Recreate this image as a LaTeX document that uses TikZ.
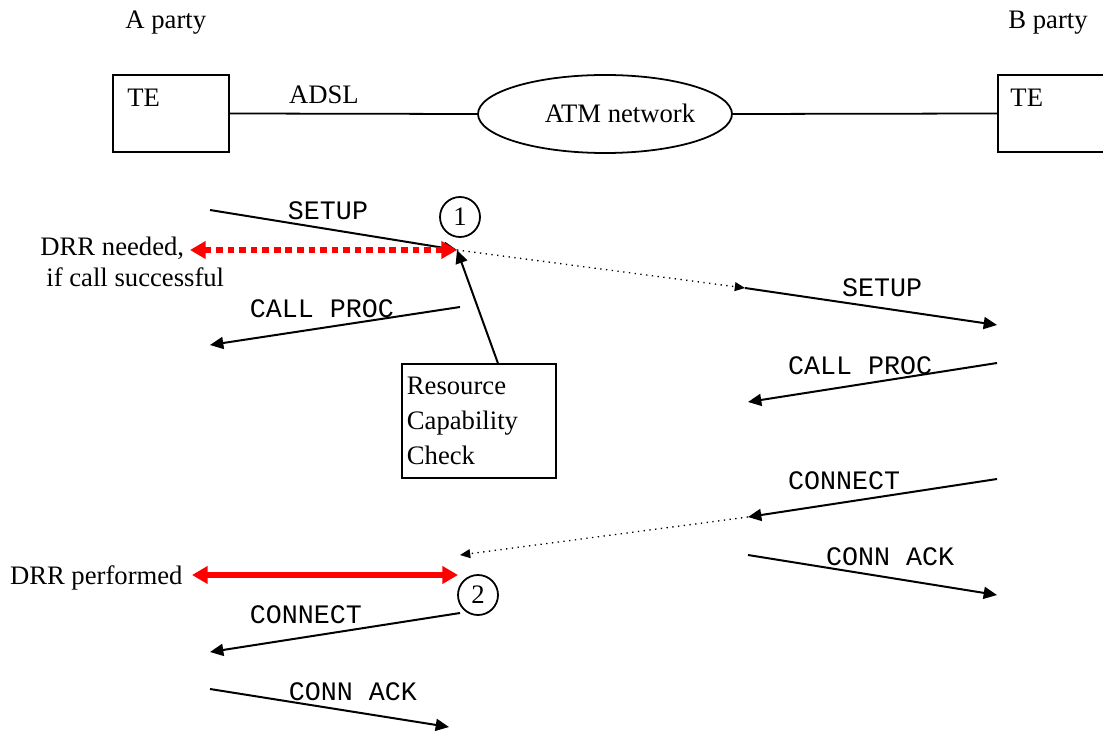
\documentclass[tikz,border=0pt]{standalone}
\usepackage{fontspec}
\setmainfont{Liberation Serif}
\setmonofont{Liberation Mono}
\usepackage{tikz}
\usetikzlibrary{arrows.meta, shapes.geometric, positioning, calc}
\tikzset{
	txt/.style={font=\fontsize{12}{14}\selectfont, inner sep=0pt},
	msgtxt/.style={font=\ttfamily\fontsize{12}{14}\selectfont, inner sep=0pt},
	msg/.style={line width=0.9pt, -{Triangle[length=6pt, width=5.4pt]}},
	relay/.style={line width=0.6pt, dotted, -{Triangle[length=4.6pt, width=4pt]}},
	drr/.style={red, line width=2.3pt, {Triangle[length=7pt, width=7.6pt]}-{Triangle[length=7pt, width=7.6pt]}},
	tebox/.style={draw, line width=0.8pt, minimum width=52.2pt, minimum height=34.7pt, inner sep=0pt},
	stepmark/.style={draw, circle, line width=0.8pt, minimum size=18pt, inner sep=0pt, font=\fontsize{12}{14}\selectfont},
}
\begin{document}
\begin{tikzpicture}[x=0.45pt, y=-0.45pt]
\useasboundingbox (0,0) rectangle (1103,735);

% network
\node[txt, anchor=base west] (aparty) at (125,29) {A party};
\node[txt, anchor=base west] (bparty) at (1008,29) {B party};
\node[tebox] (teA) at (171,113.5) {};
\node[txt, anchor=base west] (teAlbl) at (127,107) {TE};
\node[tebox, anchor=west] (teB) at (997,113.5) {};
\node[txt, anchor=base west] (teBlbl) at (1010,107) {TE};
\node[draw, ellipse, line width=0.8pt, minimum width=114.3pt, minimum height=35.1pt, inner sep=0pt] (atm) at (605,114) {};
\node[txt, anchor=base] (atmlbl) at (620,123) {ATM network};
\draw[line width=0.8pt] (teA.east) -- (atm.west) node[txt, anchor=base, pos=0.38, yshift=4.5pt] (adsl) {ADSL};
\draw[line width=0.8pt] (atm.east) -- (teB.west);

% A side points
\coordinate (a1) at (210,210);
\coordinate (a2) at (210,345);
\coordinate (a3) at (210,652);
\coordinate (a4) at (210,689);
% switch points
\coordinate (s1) at (457,250);
\coordinate (s2) at (460,307);
\coordinate (s3) at (460,555);
\coordinate (s4) at (460,613);
\coordinate (s5) at (449,727);
\coordinate (r1) at (745,288);
\coordinate (r2) at (748,402);
\coordinate (r3) at (748,517);
\coordinate (r4) at (748,555);
% B side points
\coordinate (b1) at (997,325);
\coordinate (b2) at (997,363);
\coordinate (b3) at (997,479);
\coordinate (b4) at (997,595);

\node[stepmark] (one) at (460,217) {1};
\node[stepmark] (two) at (478,595) {2};

% messages
\draw[msg] (a1) -- (s1);
\node[msgtxt, anchor=base] (setupA) at (328,220) {SETUP};
\draw[relay] (s1) -- (r1);
\draw[msg] (r1) -- (b1);
\node[msgtxt, anchor=base] (setupB) at (882,297) {SETUP};
\draw[msg] (s2) -- (a2);
\node[msgtxt, anchor=base] (procA) at (322,317) {CALL PROC};
\draw[msg] (b2) -- (r2);
\node[msgtxt, anchor=base] (procB) at (860,374) {CALL PROC};
\draw[msg] (b3) -- (r3);
\node[msgtxt, anchor=base] (connB) at (844,489) {CONNECT};
\draw[relay] (r3) -- (s3);
\draw[msg] (r4) -- (b4);
\node[msgtxt, anchor=base] (ackB) at (890,565) {CONN ACK};
\draw[msg] (s4) -- (a3);
\node[msgtxt, anchor=base] (connA) at (306,623) {CONNECT};
\draw[msg] (a4) -- (s5);
\node[msgtxt, anchor=base] (ackA) at (353,700) {CONN ACK};

% resource check
\node[draw, line width=0.8pt, minimum width=69.3pt, minimum height=51.3pt, inner xsep=2.2pt, text width=64.9pt, align=left, font=\fontsize{12}{15.75}\selectfont] (chk) at (479,421) {Resource\\Capability\\Check};
\draw[msg] ([xshift=8.5pt]chk.north) -- (s1);

% DRR
\coordinate (d1) at (190,250);
\draw[drr, dash pattern=on 3pt off 2.2pt] (d1) -- (s1);
\node[txt, anchor=base west, align=left, font=\fontsize{12}{14.4}\selectfont] (needed) at (40,287) {DRR needed,\\\hspace*{2.7pt}if call successful};
\node[txt, anchor=base east] (performed) at (183,584) {DRR performed};
\coordinate (d2) at (192,575);
\coordinate (d3) at (458,575);
\draw[drr] (d2) -- (d3);
\end{tikzpicture}
\end{document}
